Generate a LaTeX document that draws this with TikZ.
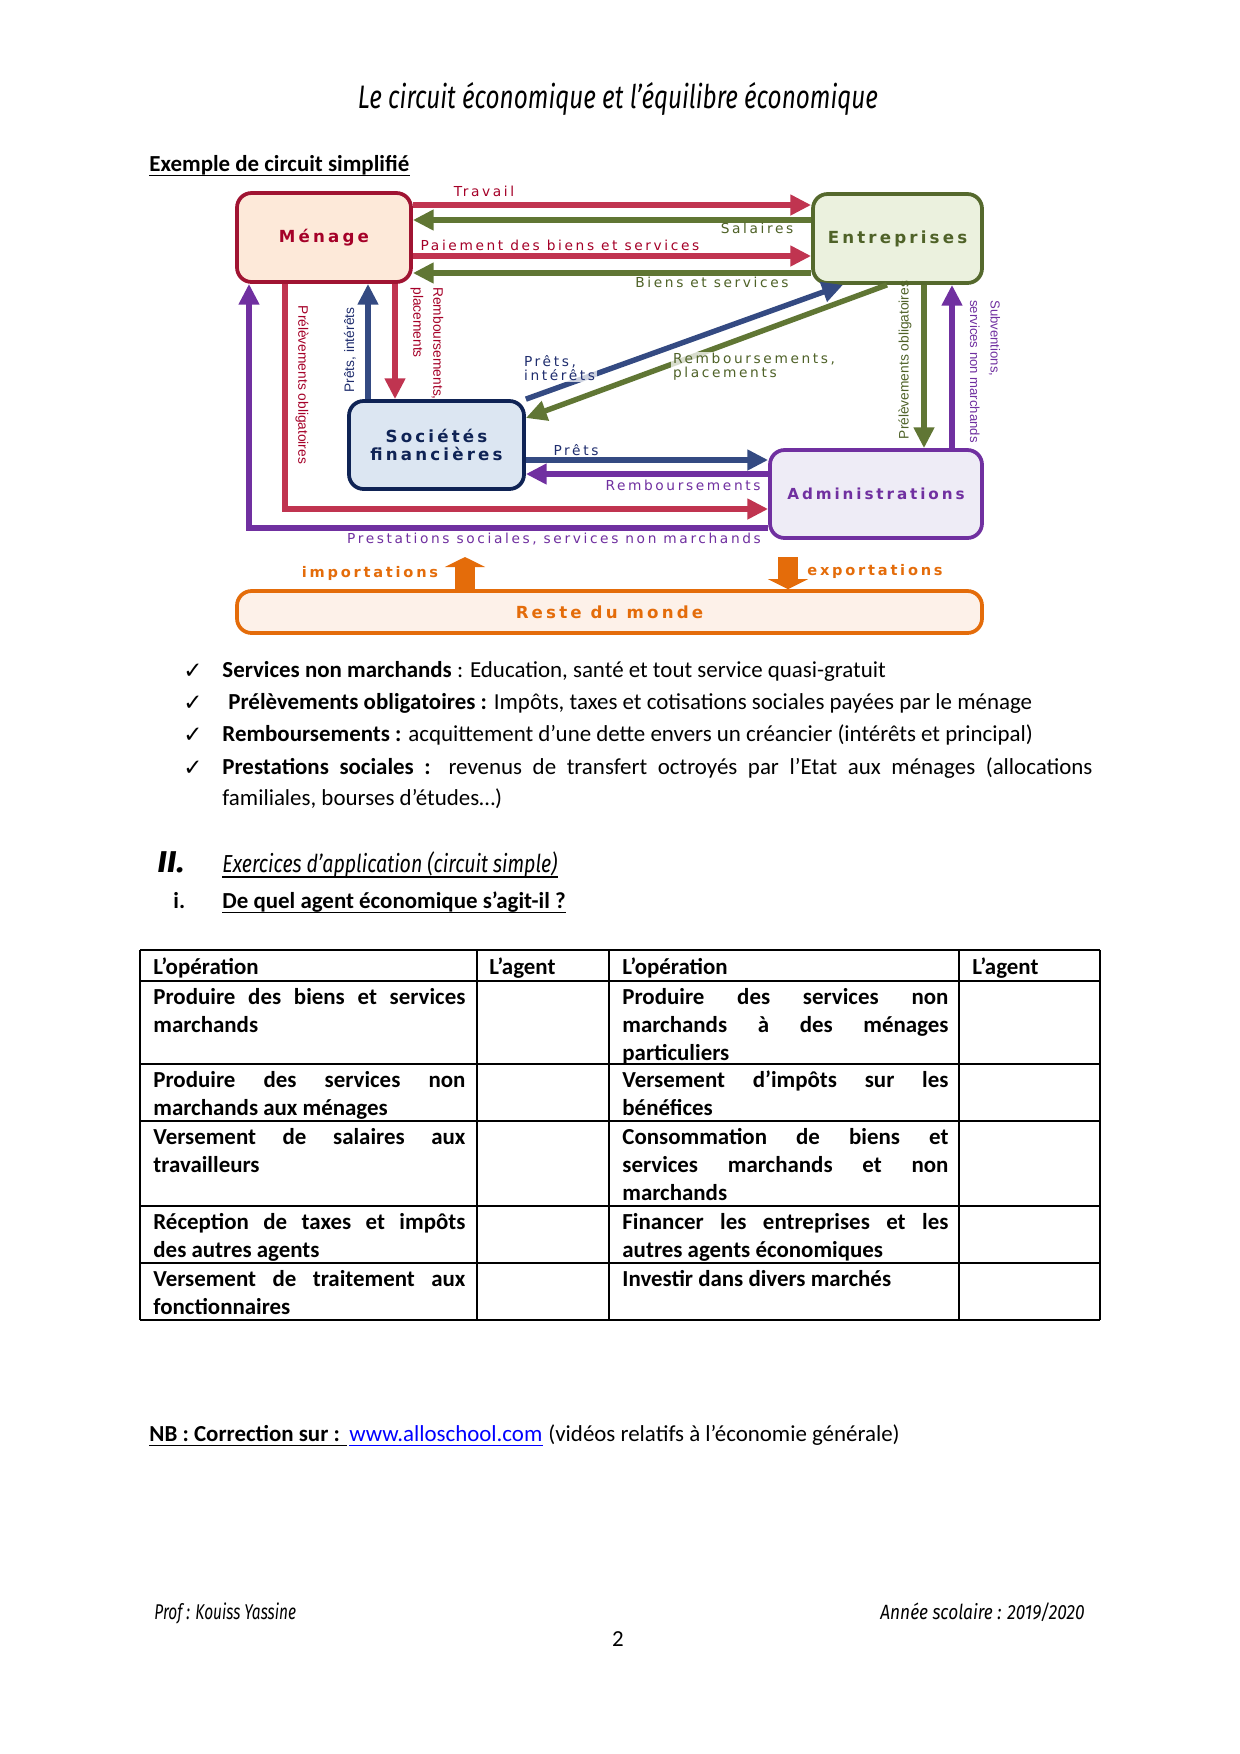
\documentclass[tikz,border=0pt]{standalone}
\usepackage{fontspec}
\usepackage{graphicx}
\setmainfont{Carlito}
\newfontfamily\dgfont[LetterSpace=19]{DejaVu Sans}
\newfontfamily\symfont{DejaVu Sans}
\newfontfamily\narrowf{Liberation Sans}
\newfontfamily\handfont{Fira Sans}
\usetikzlibrary{arrows.meta}
\newcommand\pxu{0.48pt}
\newcommand\jA[1]{\makebox[149.8pt][s]{#1}}
\newcommand\jB[1]{\makebox[156.5pt][s]{#1}}
\newcommand\jC[1]{\makebox[417.6pt][s]{#1}}
\definecolor{cRed}{RGB}{192,52,80}
\definecolor{cRedT}{RGB}{165,0,40}
\definecolor{cRedB}{RGB}{160,20,50}
\definecolor{cGreen}{RGB}{96,118,52}
\definecolor{cGreenB}{RGB}{85,105,45}
\definecolor{cGreenT}{RGB}{79,98,40}
\definecolor{cBlue}{RGB}{52,74,130}
\definecolor{cBlueT}{RGB}{31,45,110}
\definecolor{cBlueB}{RGB}{15,35,85}
\definecolor{cPurple}{RGB}{112,48,160}
\definecolor{cOrange}{RGB}{228,108,10}
\definecolor{fMen}{RGB}{253,233,217}
\definecolor{fEnt}{RGB}{235,241,222}
\definecolor{fSoc}{RGB}{220,230,242}
\definecolor{fAdm}{RGB}{238,236,246}
\definecolor{fRes}{RGB}{253,241,233}
\definecolor{cLink}{RGB}{0,0,255}
\begin{document}
\begin{tikzpicture}[x=0.48pt,y=-0.48pt,
 agent/.style={draw, line width=1.8pt, rounded corners=7pt, inner sep=0pt, align=center, font=\dgfont\bfseries\fontsize{8}{8.5}\selectfont},
 flow/.style={line width=2.6pt, -{Triangle[length=10pt,width=9.5pt]}},
 fat/.style={line width=9.6pt, draw=cOrange, -{Triangle[length=4.8pt,width=19.2pt]}},
 lbl/.style={inner sep=0pt, font=\dgfont\fontsize{6.6}{6.6}\selectfont},
 halo/.style={fill=white, fill opacity=0.75, text opacity=1, inner sep=0.8pt},
 vlbl/.style={inner sep=0pt, font=\narrowf\fontsize{6.6}{9.6}\selectfont},
 olbl/.style={inner sep=0pt, text=cOrange, font=\dgfont\bfseries\fontsize{7}{8}\selectfont},
 txt/.style={inner sep=0pt, anchor=base west, font=\fontsize{11}{13.4}\selectfont},
 tb/.style={inner sep=0pt, anchor=base west, font=\bfseries\fontsize{11}{13.4}\selectfont},
 hand/.style={inner sep=0pt, anchor=base west, font=\handfont\itshape},
 chk/.style={inner sep=0pt, font=\symfont\fontsize{11}{12}\selectfont},
 ul/.style={line width=0.6pt},
 tline/.style={line width=0.6pt}
]
\path[use as bounding box, fill=white] (0,0) rectangle (1240,1754);

% ---------- header ----------
\node[hand, anchor=base] (title) at (618,108) {\resizebox{249.6pt}{12.5pt}{Le circuit économique et l’équilibre économique}};
\node[tb] (ex) at (149,171) {Exemple de circuit simplifié};
\draw[ul] ([yshift=-2pt]ex.base west) -- ([yshift=-2pt]ex.base east);

% ---------- agents ----------
\node[agent, draw=cRedB, fill=fMen, text=cRedT, minimum width=174*\pxu, minimum height=89*\pxu] (men) at (324,237.5) {Ménage};
\node[agent, draw=cGreenB, fill=fEnt, text=cGreenT, minimum width=169*\pxu, minimum height=89*\pxu] (ent) at (897.5,238.5) {Entreprises};
\node[agent, draw=cBlueB, fill=fSoc, text=cBlueB, minimum width=175*\pxu, minimum height=88*\pxu] (soc) at (436.5,445) {Sociétés\\financières};
\node[agent, draw=cPurple, fill=fAdm, text=cPurple, minimum width=212*\pxu, minimum height=88*\pxu, font=\dgfont\bfseries\fontsize{7.3}{8}\selectfont] (adm) at (876,494) {Administrations};
\node[agent, draw=cOrange, fill=fRes, text=cOrange, minimum width=745*\pxu, minimum height=42*\pxu] (res) at (609.5,612) {Reste du monde};

% ---------- flows ----------
\draw[flow, cRed] (men.east |- 0,205) -- (ent.west |- 0,205);
\draw[flow, cGreen] (ent.west |- 0,220) -- (men.east |- 0,220);
\draw[flow, cRed] (men.east |- 0,256) -- (ent.west |- 0,256);
\draw[flow, cGreen] (ent.west |- 0,273) -- (men.east |- 0,273);

\draw[flow, cPurple] (adm.west |- 0,528) -| (men.south -| 249,0);
\draw[flow, cRed] (men.south -| 285,0) |- (adm.west |- 0,509);
\draw[flow, cBlue] (soc.north -| 368,0) -- (men.south -| 368,0);
\draw[flow, cRed] (men.south -| 395,0) -- (soc.north -| 395,0);

\draw[flow, cBlue] (soc.north east) -- (ent.south -| 843,0);
\draw[flow, cGreen] (ent.south -| 887,0) -- (soc.east |- 0,418);

\draw[flow, cGreen] (ent.south -| 924,0) -- (adm.north -| 924,0);
\draw[flow, cPurple] (adm.north -| 952,0) -- (ent.south -| 952,0);

\draw[flow, cBlue] (soc.east |- 0,460) -- (adm.west |- 0,460);
\draw[flow, cPurple] (adm.west |- 0,474) -- (soc.east |- 0,474);

\coordinate (impT) at (465,557);
\coordinate (expT) at (788,557);
\draw[fat] (res.north -| impT) -- (impT);
\draw[fat] (expT) -- (res.north -| expT);

% ---------- flow labels ----------
\node[lbl, text=cRedT] (lTrav) at (484,191) {Travail};
\node[lbl, text=cGreenT] (lSal) at (757,228) {Salaires};
\node[lbl, text=cRedT] (lPai) at (560,245) {Paiement des biens et services};
\node[lbl, text=cGreenT] (lBie) at (712,282) {Biens et services};
\node[vlbl, text=cRedT, rotate=-90] (lPre1) at (302,385) {Prélèvements obligatoires};
\node[vlbl, text=cBlueT, rotate=90] (lPi1) at (350,350) {Prêts, intérêts};
\node[vlbl, text=cRedT, rotate=-90, anchor=west, align=left] (lRp1) at (427,287) {Remboursements,\\placements};
\node[lbl, halo, text=cBlueT, align=left, anchor=west] (lPi2) at (522,368) {Prêts,\\intérêts};
\node[lbl, halo, text=cGreenT, align=left, anchor=west] (lRp2) at (671,367) {Remboursements,\\placements};
\node[vlbl, text=cGreenT, rotate=90] (lPre2) at (905,360) {Prélèvements obligatoires};
\node[vlbl, text=cPurple, rotate=-90, anchor=west, align=left, font=\narrowf\fontsize{6.3}{9.8}\selectfont] (lSub) at (985,300) {Subventions,\\services non marchands};
\node[lbl, text=cBlueT] (lPr3) at (576,450) {Prêts};
\node[lbl, text=cPurple] (lRem3) at (683,485) {Remboursements};
\node[lbl, text=cPurple] (lPrest) at (554,539) {Prestations sociales, services non marchands};
\node[olbl] (lImp) at (370,573) {importations};
\node[olbl] (lExp) at (875,571) {exportations};

% ---------- bullets ----------
\node[chk] (c1) at (193,671) {✓};
\node[chk] (c2) at (193,703) {✓};
\node[chk] (c3) at (193,735) {✓};
\node[chk] (c4) at (193,768) {✓};
\node[txt] (d1) at (222,677) {\textbf{Services non marchands} : Education, santé et tout service quasi-gratuit};
\node[txt] (d2) at (228,709) {\textbf{Prélèvements obligatoires :} Impôts, taxes et cotisations sociales payées par le ménage};
\node[txt] (d3) at (222,741) {\textbf{Remboursements :} acquittement d’une dette envers un créancier (intérêts et principal)};
\node[txt] (d4) at (222,774) {\jC{\textbf{Prestations sociales :} revenus de transfert octroyés par l’Etat aux ménages (allocations}};
\node[txt] (d5) at (222,805) {familiales, bourses d’études…)};

% ---------- section ----------
\node[hand] (sII) at (157,872) {\resizebox{13pt}{10pt}{\bfseries II.}};
\node[hand] (sEx) at (222,872) {\resizebox{160.8pt}{10pt}{Exercices d’application (circuit simple)}};
\draw[ul] ([yshift=-2.4pt]sEx.base west) -- ([yshift=-2.4pt]sEx.base east);
\node[tb] (si) at (173,908) {i.};
\node[tb] (sq) at (222,908) {De quel agent économique s’agit-il ?};
\draw[ul] ([yshift=-2pt]sq.base west) -- ([yshift=-2pt]sq.base east);

% ---------- table ----------
\foreach \yy in {950,981,1064,1121,1206,1263,1320} \draw[tline] (140,\yy) -- (1100,\yy);
\foreach \xx in {140,477,609,959,1100} \draw[tline] (\xx,950) -- (\xx,1320);

\node[tb] (h1) at (153,974) {L’opération};
\node[tb] (h2) at (489,974) {L’agent};
\node[tb] (h3) at (622,974) {L’opération};
\node[tb] (h4) at (972,974) {L’agent};

\node[tb] (a1) at (153,1004) {\jA{Produire des biens et services}};
\node[tb] (a2) at (153,1032) {marchands};
\node[tb] (b1) at (622,1004) {\jB{Produire des services non}};
\node[tb] (b2) at (622,1032) {\jB{marchands à des ménages}};
\node[tb] (b3) at (622,1060) {particuliers};

\node[tb] (a3) at (153,1087) {\jA{Produire des services non}};
\node[tb] (a4) at (153,1115) {marchands aux ménages};
\node[tb] (b4) at (622,1087) {\jB{Versement d’impôts sur les}};
\node[tb] (b5) at (622,1115) {bénéfices};

\node[tb] (a5) at (153,1144) {\jA{Versement de salaires aux}};
\node[tb] (a6) at (153,1172) {travailleurs};
\node[tb] (b6) at (622,1144) {\jB{Consommation de biens et}};
\node[tb] (b7) at (622,1172) {\jB{services marchands et non}};
\node[tb] (b8) at (622,1200) {marchands};

\node[tb] (a7) at (153,1229) {\jA{Réception de taxes et impôts}};
\node[tb] (a8) at (153,1257) {des autres agents};
\node[tb] (b9) at (622,1229) {\jB{Financer les entreprises et les}};
\node[tb] (b10) at (622,1257) {autres agents économiques};

\node[tb] (a9) at (153,1286) {\jA{Versement de traitement aux}};
\node[tb] (a10) at (153,1314) {fonctionnaires};
\node[tb] (b11) at (622,1286) {Investir dans divers marchés};

% ---------- NB ----------
\node[tb] (nb) at (149,1441) {NB : Correction sur :};
\draw[ul] ([yshift=-2pt]nb.base west) -- ([yshift=-2pt,xshift=3pt]nb.base east);
\node[txt, text=cLink] (lnk) at (349,1441) {www.alloschool.com};
\draw[ul, cLink] ([yshift=-2pt]lnk.base west) -- ([yshift=-2pt]lnk.base east);
\node[txt] (nbr) at (548,1441) {(vidéos relatifs à l’économie générale)};

% ---------- footer ----------
\node[hand] (prof) at (154,1619) {\resizebox{68pt}{8pt}{Prof : Kouiss Yassine}};
\node[hand, anchor=base east] (annee) at (1085,1619) {\resizebox{98pt}{8pt}{Année scolaire : 2019/2020}};
\node[txt, anchor=base] (pg) at (618,1646) {2};
\end{tikzpicture}
\end{document}
